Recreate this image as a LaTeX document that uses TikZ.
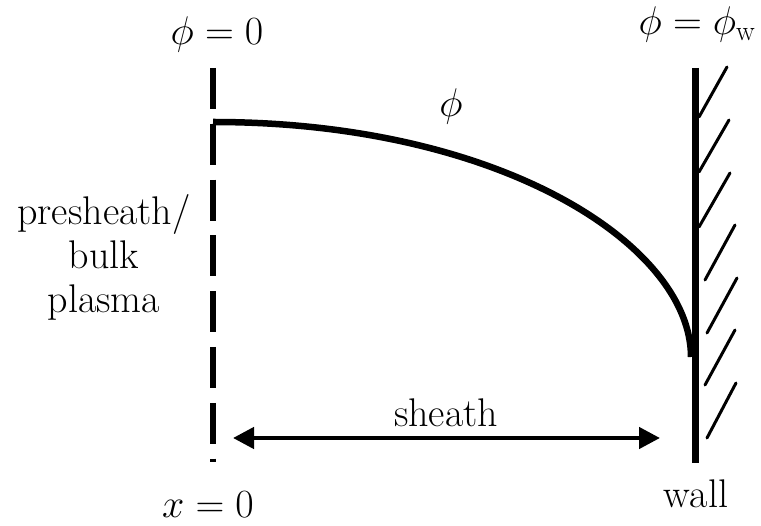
\documentclass[tikz,border=0pt]{standalone}
\usepackage{fix-cm}
\usepackage{fontspec}
\usetikzlibrary{arrows.meta}
\begin{document}
\begin{tikzpicture}[x=1pt,y=-1pt,
  lbl/.style={inner sep=0pt,anchor=base,font=\fontsize{40}{44}\selectfont},
  wallline/.style={line width=7pt},
  hatchline/.style={line width=3pt,line cap=round},
  boundary/.style={line width=5.5pt,dash pattern=on 41pt off 14.8pt},
  potential/.style={line width=6.5pt},
  span/.style={line width=4.5pt,{Triangle[length=21pt,width=21pt]}-{Triangle[length=21pt,width=21pt]}}]
\useasboundingbox (0,0) rectangle (761,526);
% coordinates
\coordinate (dtop) at (213,68);
\coordinate (dbot) at (213,462);
\coordinate (wtop) at (695,68);
\coordinate (wbot) at (695,463);
\coordinate (cstart) at (213,122);
\coordinate (cend) at (691,357);
\coordinate (aL) at (233,438);
\coordinate (aR) at (660,438);
% boundary (dashed)
\draw[boundary] (dtop) -- (dbot);
% wall
\draw[wallline] (wtop) -- (wbot);
% hatching
\foreach \i/\ax/\ay/\bx/\by in {1/699/117/727/67, 2/699/172/729/120, 3/699/227/730/173,
  4/705/280/735/225, 5/707/333/737/278, 6/705/385/735/330, 7/707/438/736/383}{
  \coordinate (h\i a) at (\ax,\ay);
  \coordinate (h\i b) at (\bx,\by);
  \draw[hatchline] (h\i a) -- (h\i b);
}
% potential curve
\draw[potential] (cstart) .. controls (502,122) and (691,246) .. (cend);
% sheath arrow
\draw[span] (aL) -- (aR);
% labels
\node[lbl] (phi0) at (217,45) {$\phi=0$};
\node[lbl] (phiw) at (697,35) {$\phi=\phi_{\mathrm{w}}$};
\node[lbl] (phi) at (451,117) {$\phi$};
\node[lbl] (x0) at (208,518) {$x=0$};
\node[lbl] (wall) at (696,508) {wall};
\node[lbl] (sheath) at (446,427) {sheath};
\node[lbl,align=center] (pre) at (104,313) {presheath/\\bulk\\plasma};
\end{tikzpicture}
\end{document}
